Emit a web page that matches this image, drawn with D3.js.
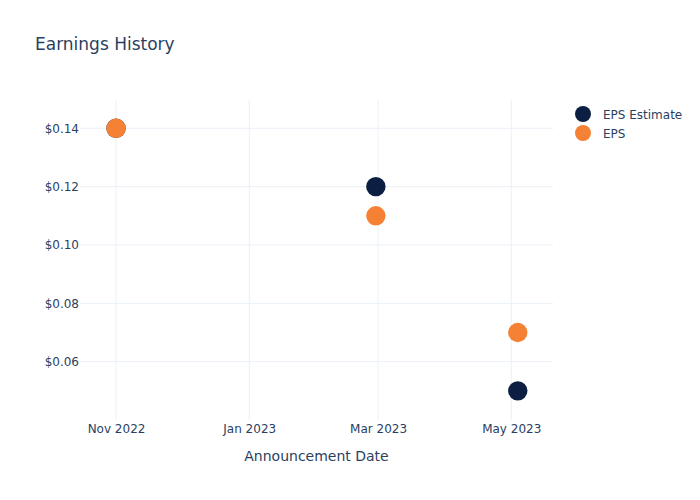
<!DOCTYPE html>
<html>
<head>
<meta charset="utf-8">
<script src="https://cdn.jsdelivr.net/npm/d3@7"></script>
<style>
  body { margin: 0; background: #fff; }
  svg text { font-family: "DejaVu Sans", Verdana, sans-serif; fill: #2a3f5f; }
</style>
</head>
<body>
<svg id="chart" width="700" height="500"></svg>
<script>
const dates = ["2022-11-01", "2023-02-28", "2023-05-04"];
const epsEstimate = [0.14, 0.12, 0.05];
const eps = [0.14, 0.11, 0.07];
const seriesNames = ["EPS Estimate", "EPS"];
const seriesColors = ["#0c1f43", "#f58234"];
const xTickDates = ["2022-11-01", "2023-01-01", "2023-03-01", "2023-05-01"];
const yTicks = [0.06, 0.08, 0.10, 0.12, 0.14];

const svg = d3.select("#chart");
const W = 700, H = 500;
const plot = { left: 80, right: 553, top: 100, bottom: 420 };
const parse = d3.utcParse("%Y-%m-%d");

const x = d3.scaleUtc()
  .domain([new Date(Date.UTC(2022, 9, 15, 12)), new Date(Date.UTC(2023, 4, 20, 3))])
  .range([plot.left, plot.right]);
const y = d3.scaleLinear()
  .domain([0.04, 0.1497])
  .range([plot.bottom, plot.top]);

svg.append("rect").attr("width", W).attr("height", H).attr("fill", "#fff");

// grid
const grid = svg.append("g");
grid.selectAll("line.h").data(yTicks).join("line")
  .attr("x1", plot.left).attr("x2", plot.right)
  .attr("y1", d => y(d)).attr("y2", d => y(d))
  .attr("stroke", "#ebf0f8").attr("stroke-width", 1);
grid.selectAll("line.v").data(xTickDates.map(parse)).join("line")
  .attr("y1", plot.top).attr("y2", plot.bottom)
  .attr("x1", d => x(d)).attr("x2", d => x(d))
  .attr("stroke", "#ebf0f8").attr("stroke-width", 1);

// axes
const xAxis = d3.axisBottom(x)
  .tickValues(xTickDates.map(parse))
  .tickFormat(d3.utcFormat("%b %Y"))
  .tickSize(0).tickPadding(4);
const gx = svg.append("g").attr("transform", `translate(0,${plot.bottom})`).call(xAxis);
gx.select(".domain").remove();
gx.selectAll("text").attr("font-size", 12).style("font-family", '"DejaVu Sans", Verdana, sans-serif').attr("fill", "#2a3f5f");

const yAxis = d3.axisLeft(y)
  .tickValues(yTicks)
  .tickFormat(d => "$" + d3.format(".2f")(d))
  .tickSize(0).tickPadding(1);
const gy = svg.append("g").attr("transform", `translate(${plot.left},0)`).call(yAxis);
gy.select(".domain").remove();
gy.selectAll("text").attr("font-size", 12).style("font-family", '"DejaVu Sans", Verdana, sans-serif').attr("fill", "#2a3f5f");

// points
const series = [epsEstimate, eps];
series.forEach((vals, i) => {
  svg.append("g").selectAll("circle").data(vals.map((v, j) => ({ d: parse(dates[j]), v })))
    .join("circle")
    .attr("cx", p => x(p.d)).attr("cy", p => y(p.v))
    .attr("r", 9.7)
    .attr("fill", seriesColors[i]);
});

// title
svg.append("text").attr("x", 35).attr("y", 50).attr("font-size", 17).text("Earnings History");

// x axis title
svg.append("text").attr("x", (plot.left + plot.right) / 2).attr("y", 461)
  .attr("text-anchor", "middle").attr("font-size", 14).text("Announcement Date");

// legend
const lg = svg.append("g");
seriesNames.forEach((name, i) => {
  const cy = 114 + i * 19;
  lg.append("circle").attr("cx", 583).attr("cy", cy).attr("r", 8).attr("fill", seriesColors[i]);
  lg.append("text").attr("x", 603).attr("y", cy + 4.5).attr("font-size", 12).text(name);
});
</script>
</body>
</html>
